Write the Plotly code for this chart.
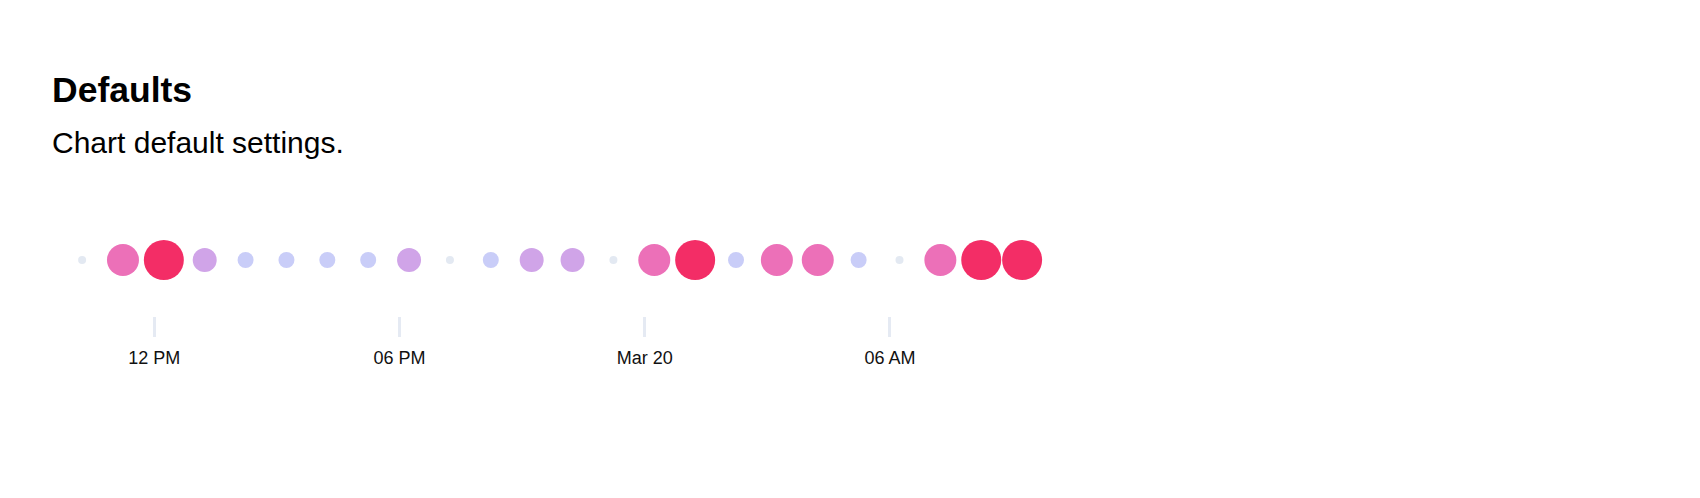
import plotly.graph_objects as go
import pandas as pd

# ---- data ----
times = [
    "2024-03-19 10:14", "2024-03-19 11:14", "2024-03-19 12:14", "2024-03-19 13:14",
    "2024-03-19 14:14", "2024-03-19 15:14", "2024-03-19 16:14", "2024-03-19 17:14",
    "2024-03-19 18:14", "2024-03-19 19:14", "2024-03-19 20:14", "2024-03-19 21:14",
    "2024-03-19 22:14", "2024-03-19 23:14", "2024-03-20 00:14", "2024-03-20 01:14",
    "2024-03-20 02:14", "2024-03-20 03:14", "2024-03-20 04:14", "2024-03-20 05:14",
    "2024-03-20 06:14", "2024-03-20 07:14", "2024-03-20 08:14", "2024-03-20 09:14",
]
values = [1, 4, 5, 3, 2, 2, 2, 2, 3, 1, 2, 3, 3, 1, 4, 5, 2, 4, 4, 2, 1, 4, 5, 5]
tick_vals = ["2024-03-19 12:00", "2024-03-19 18:00", "2024-03-20 00:00", "2024-03-20 06:00"]
tick_text = ["12 PM", "06 PM", "Mar 20", "06 AM"]
level_colors = ["#e3e9f2", "#c9cdf8", "#d0a4e8", "#ec70b8", "#f32d66"]

# ---- layout geometry (page body adds an 8px offset) ----
W, H = 1700, 498
OFF = 8
px_per_hour = 40.87
origin_px = 154.3 - OFF  # pixel of first tick
origin = pd.Timestamp(tick_vals[0])
x0 = origin - pd.Timedelta(hours=origin_px / px_per_hour)
x1 = x0 + pd.Timedelta(hours=W / px_per_hour)

plot_top, plot_bottom = 204 - OFF, 316 - OFF
plot_h = plot_bottom - plot_top

def yfrac(py):
    return (plot_bottom - py) / plot_h

n = len(level_colors)
colorscale = [[i / (n - 1), c] for i, c in enumerate(level_colors)]

fig = go.Figure(
    go.Scatter(
        x=pd.to_datetime(times),
        y=[0] * len(times),
        mode="markers",
        marker=dict(
            size=values,
            sizemode="diameter",
            sizeref=1 / 8,
            color=values,
            colorscale=colorscale,
            cmin=1,
            cmax=n,
            line=dict(width=0),
            opacity=1,
        ),
        hoverinfo="x+text",
        text=[str(v) for v in values],
    )
)

font_family = "Helvetica, Arial, 'Liberation Sans', sans-serif"

fig.update_layout(
    width=W,
    height=H,
    margin=dict(l=0, r=0, t=plot_top, b=H - plot_bottom, pad=0),
    paper_bgcolor="white",
    plot_bgcolor="white",
    showlegend=False,
    font=dict(family=font_family, color="#111111"),
    xaxis=dict(
        type="date",
        range=[x0, x1],
        tickmode="array",
        tickvals=tick_vals,
        ticktext=tick_text,
        ticks="outside",
        ticklen=20,
        tickwidth=2.5,
        tickcolor="#e5eaf3",
        ticklabelstandoff=5,
        tickfont=dict(size=18, color="#111111"),
        showgrid=False,
        zeroline=False,
        showline=False,
        fixedrange=True,
    ),
    yaxis=dict(
        range=[-1, 1],
        visible=False,
        fixedrange=True,
    ),
    annotations=[
        dict(
            text="<b>Defaults</b>",
            xref="paper", yref="paper",
            x=(51 - OFF - 1) / W, y=yfrac(90 - OFF),
            xanchor="left", yanchor="middle",
            showarrow=False,
            font=dict(size=35.5, color="#000000", family=font_family),
        ),
        dict(
            text="Chart default settings.",
            xref="paper", yref="paper",
            x=(51 - OFF - 1) / W, y=yfrac(142 - OFF),
            xanchor="left", yanchor="middle",
            showarrow=False,
            font=dict(size=30, color="#000000", family=font_family),
        ),
    ],
)

fig.write_html("out.html")
